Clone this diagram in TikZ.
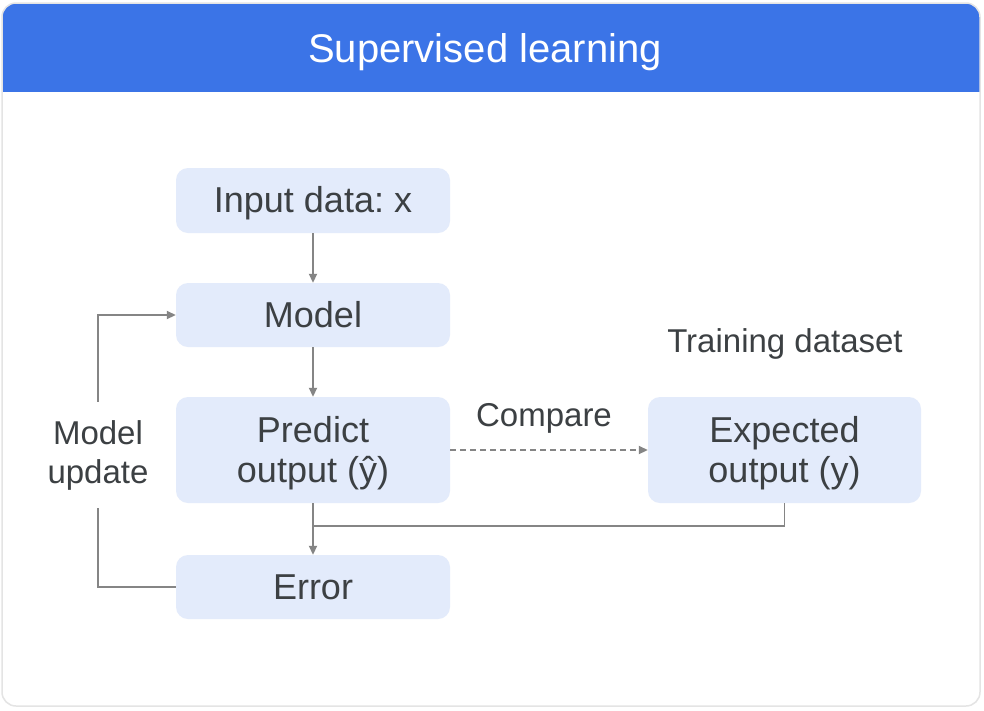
\documentclass[tikz,border=0pt]{standalone}
\usepackage{fontspec}
\setmainfont{Liberation Sans}
\usetikzlibrary{arrows.meta}
\definecolor{hdr}{HTML}{3B74E7}
\definecolor{boxc}{HTML}{E3EBFB}
\definecolor{txt}{HTML}{3C4043}
\definecolor{ln}{HTML}{858585}
\definecolor{cardedge}{HTML}{E4E4E4}
\frenchspacing
\newcommand{\boxstrut}{\rule[-8pt]{0pt}{40pt}}
\newcommand{\depthstrut}{\rule[-8pt]{0pt}{8pt}}
\begin{document}
\begin{tikzpicture}[x=1pt,y=-1pt,
 blk/.style={fill=boxc, rounded corners=12pt, minimum width=274pt, inner sep=0pt, text=txt, font=\fontsize{36}{40}\selectfont, align=center},
 lbl/.style={text=txt, font=\fontsize{33}{39}\selectfont, align=center, inner sep=0pt},
 conn/.style={draw=ln, line width=1.8pt, -{Triangle[length=9pt,width=8pt]}},
 plain/.style={draw=ln, line width=1.8pt}]
\useasboundingbox (0,0) rectangle (984,710);
\fill[white] (0,0) rectangle (984,710);
\begin{scope}
\clip[rounded corners=14pt] (2,3) rectangle (980,706);
\fill[hdr] (0,0) rectangle (984,92);
\end{scope}
\draw[cardedge, line width=1.5pt, rounded corners=14pt] (2,3) rectangle (980,706);
\node[font=\fontsize{40}{48}\selectfont, text=white, inner sep=0pt] (title) at (485,52) {Supervised learning};

\node[blk, minimum height=65pt] (inp) at (313,200.5) {\boxstrut Input data: x};
\node[blk, minimum height=64pt] (mod) at (313,315) {\boxstrut Model};
\node[blk, minimum height=106pt] (pred) at (313,450) {\boxstrut Predict\\output (ŷ)\depthstrut};
\node[blk, minimum height=64pt] (err) at (313,587) {\boxstrut Error};
\node[blk, minimum height=106pt, minimum width=273pt] (exp) at (784.5,450) {\boxstrut Expected\\output (y)\depthstrut};

\node[lbl] (td) at (785,344) {Training dataset};
\node[lbl] (cmp) at (544,418) {Compare};

\coordinate (j) at (313,526);
\coordinate (lx) at (98,450);

\draw[conn] (inp) -- (mod);
\draw[conn] (mod) -- (pred);
\draw[conn] (pred) -- (err);
\draw[plain] (exp.south) |- (j);
\draw[conn, dash pattern=on 6pt off 4pt] (pred) -- (exp);
\draw[conn] (err.west) -| (lx) |- (mod.west);
\node[lbl, fill=white, inner ysep=18pt, inner xsep=4pt] (mu) at (98,455) {Model\\update};
\end{tikzpicture}
\end{document}
